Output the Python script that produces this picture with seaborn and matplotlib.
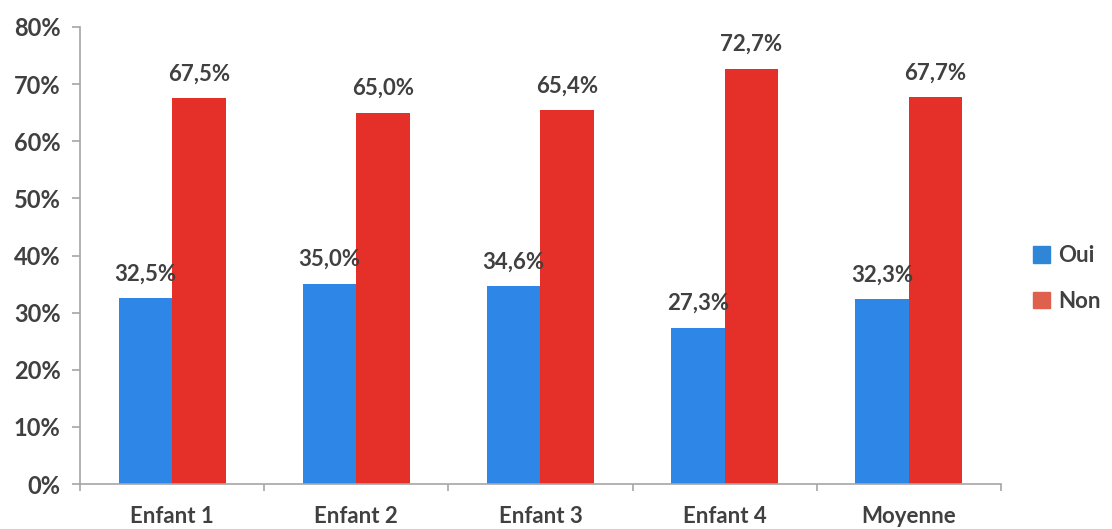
import pandas as pd
import numpy as np
import matplotlib.pyplot as plt
import seaborn as sns
from matplotlib.patches import Patch

# Données
categories = ['Enfant 1', 'Enfant 2', 'Enfant 3', 'Enfant 4', 'Moyenne']
oui = [32.5, 35.0, 34.6, 27.3, 32.3]
non = [67.5, 65.0, 65.4, 72.7, 67.7]
series = ['Oui', 'Non']
couleurs = ['#2E86E6', '#E5302A']
couleurs_legende = ['#2F86D6', '#E0604E']

df = pd.DataFrame({
    'Categorie': categories * 2,
    'Reponse': ['Oui'] * len(categories) + ['Non'] * len(categories),
    'Valeur': oui + non,
})

sns.set_style('white')
plt.rcParams['font.family'] = ['Lato', 'DejaVu Sans']
texte = '#404040'

fig = plt.figure(figsize=(11.12, 5.29), dpi=100)
ax = fig.add_axes([0.072, 0.085, 0.828, 0.864])

sns.barplot(
    data=df,
    x='Categorie',
    y='Valeur',
    hue='Reponse',
    hue_order=series,
    palette=couleurs,
    width=0.58,
    gap=0,
    saturation=1,
    linewidth=0,
    legend=False,
    ax=ax
)

# Étiquettes des barres
for cont in ax.containers:
    ax.bar_label(
        cont,
        labels=[f'{v:.1f}%'.replace('.', ',') for v in cont.datavalues],
        padding=10,
        fontsize=16,
        fontweight='bold',
        color=texte
    )

ax.set_ylim(0, 80)
ax.set_xlim(-0.5, len(categories) - 0.5)
ax.set_yticks(np.arange(0, 81, 10))
ax.set_yticklabels([f'{t}%' for t in range(0, 81, 10)])
ax.set_xticks(range(len(categories)))
ax.set_xticks(np.arange(-0.5, len(categories), 1), minor=True)
ax.set_xlabel('')
ax.set_ylabel('')

for s in ['top', 'right']:
    ax.spines[s].set_visible(False)
for s in ['left', 'bottom']:
    ax.spines[s].set_color('#A6A6A6')
    ax.spines[s].set_linewidth(1.2)

ax.tick_params(axis='y', left=True, length=6, width=1.2, color='#A6A6A6',
               pad=8, labelsize=17, labelcolor=texte)
ax.tick_params(axis='x', which='major', bottom=False, pad=12,
               labelsize=16, labelcolor=texte)
ax.tick_params(axis='x', which='minor', bottom=True, length=5, width=1.2,
               color='#A6A6A6')
for lab in ax.get_yticklabels() + ax.get_xticklabels():
    lab.set_fontweight('bold')

handles = [Patch(color=c, label=l) for c, l in zip(couleurs_legende, series)]
leg = ax.legend(
    handles=handles,
    loc='center left',
    bbox_to_anchor=(1.035, 0.45),
    borderaxespad=0,
    borderpad=0,
    frameon=False,
    handlelength=0.75,
    handleheight=0.75,
    handletextpad=0.4,
    labelspacing=1.1,
    prop={'size': 16, 'weight': 'bold'}
)
for t in leg.get_texts():
    t.set_color(texte)

plt.savefig('out.png', dpi=100)
